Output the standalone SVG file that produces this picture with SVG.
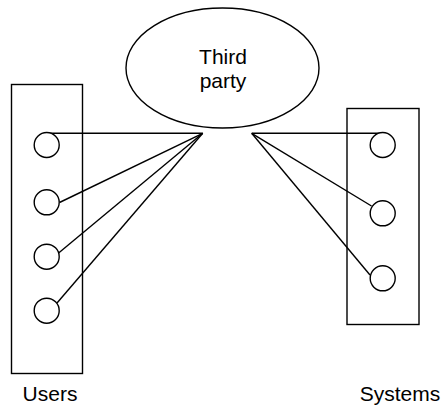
<svg xmlns="http://www.w3.org/2000/svg" width="443" height="405" viewBox="0 0 443 405">
  <style>
    .shape { fill: none; stroke: #000; stroke-width: 1.4; }
    .node { fill: #fff; stroke: #000; stroke-width: 1.4; }
    .link { stroke: #000; stroke-width: 1.4; fill: none; }
    .label { font-family: "Liberation Sans", Arial, sans-serif; font-size: 21px; fill: #000; text-anchor: middle; }
  </style>
  <rect width="443" height="405" fill="#fff"/>

  <!-- group containers -->
  <g id="users">
    <rect class="shape" x="11.5" y="84.5" width="71" height="289"/>
    <text class="label" x="50" y="401">Users</text>
  </g>
  <g id="systems">
    <rect class="shape" x="347" y="108.5" width="72" height="216"/>
    <text class="label" x="400" y="401">Systems</text>
  </g>

  <!-- hub -->
  <g id="third-party">
    <ellipse class="shape" cx="222.5" cy="68" rx="96.5" ry="60"/>
    <text class="label" x="223" y="64">Third</text>
    <text class="label" x="223" y="88">party</text>
  </g>

  <!-- connectors -->
  <g id="connectors">
    <line class="link" x1="45" y1="133.3" x2="202.7" y2="133.3"/>
    <line class="link" x1="59.5" y1="202.5" x2="202.7" y2="133.3"/>
    <line class="link" x1="58" y1="253.5" x2="202.7" y2="133.3"/>
    <line class="link" x1="57" y1="303" x2="202.7" y2="133.3"/>
    <line class="link" x1="251.7" y1="133.3" x2="380" y2="133.3"/>
    <line class="link" x1="251.7" y1="133.3" x2="371.5" y2="206"/>
    <line class="link" x1="251.7" y1="133.3" x2="370" y2="275"/>
  </g>

  <!-- endpoints -->
  <g id="user-1"><circle class="node" cx="46.7" cy="145" r="12.5"/></g>
  <g id="user-2"><circle class="node" cx="46.7" cy="202.3" r="12.5"/></g>
  <g id="user-3"><circle class="node" cx="46.7" cy="256.7" r="12.5"/></g>
  <g id="user-4"><circle class="node" cx="46.7" cy="310.7" r="12.5"/></g>
  <g id="system-1"><circle class="node" cx="382.7" cy="145" r="12.5"/></g>
  <g id="system-2"><circle class="node" cx="382.7" cy="213.3" r="12.5"/></g>
  <g id="system-3"><circle class="node" cx="382.7" cy="278.3" r="12.5"/></g>
</svg>
